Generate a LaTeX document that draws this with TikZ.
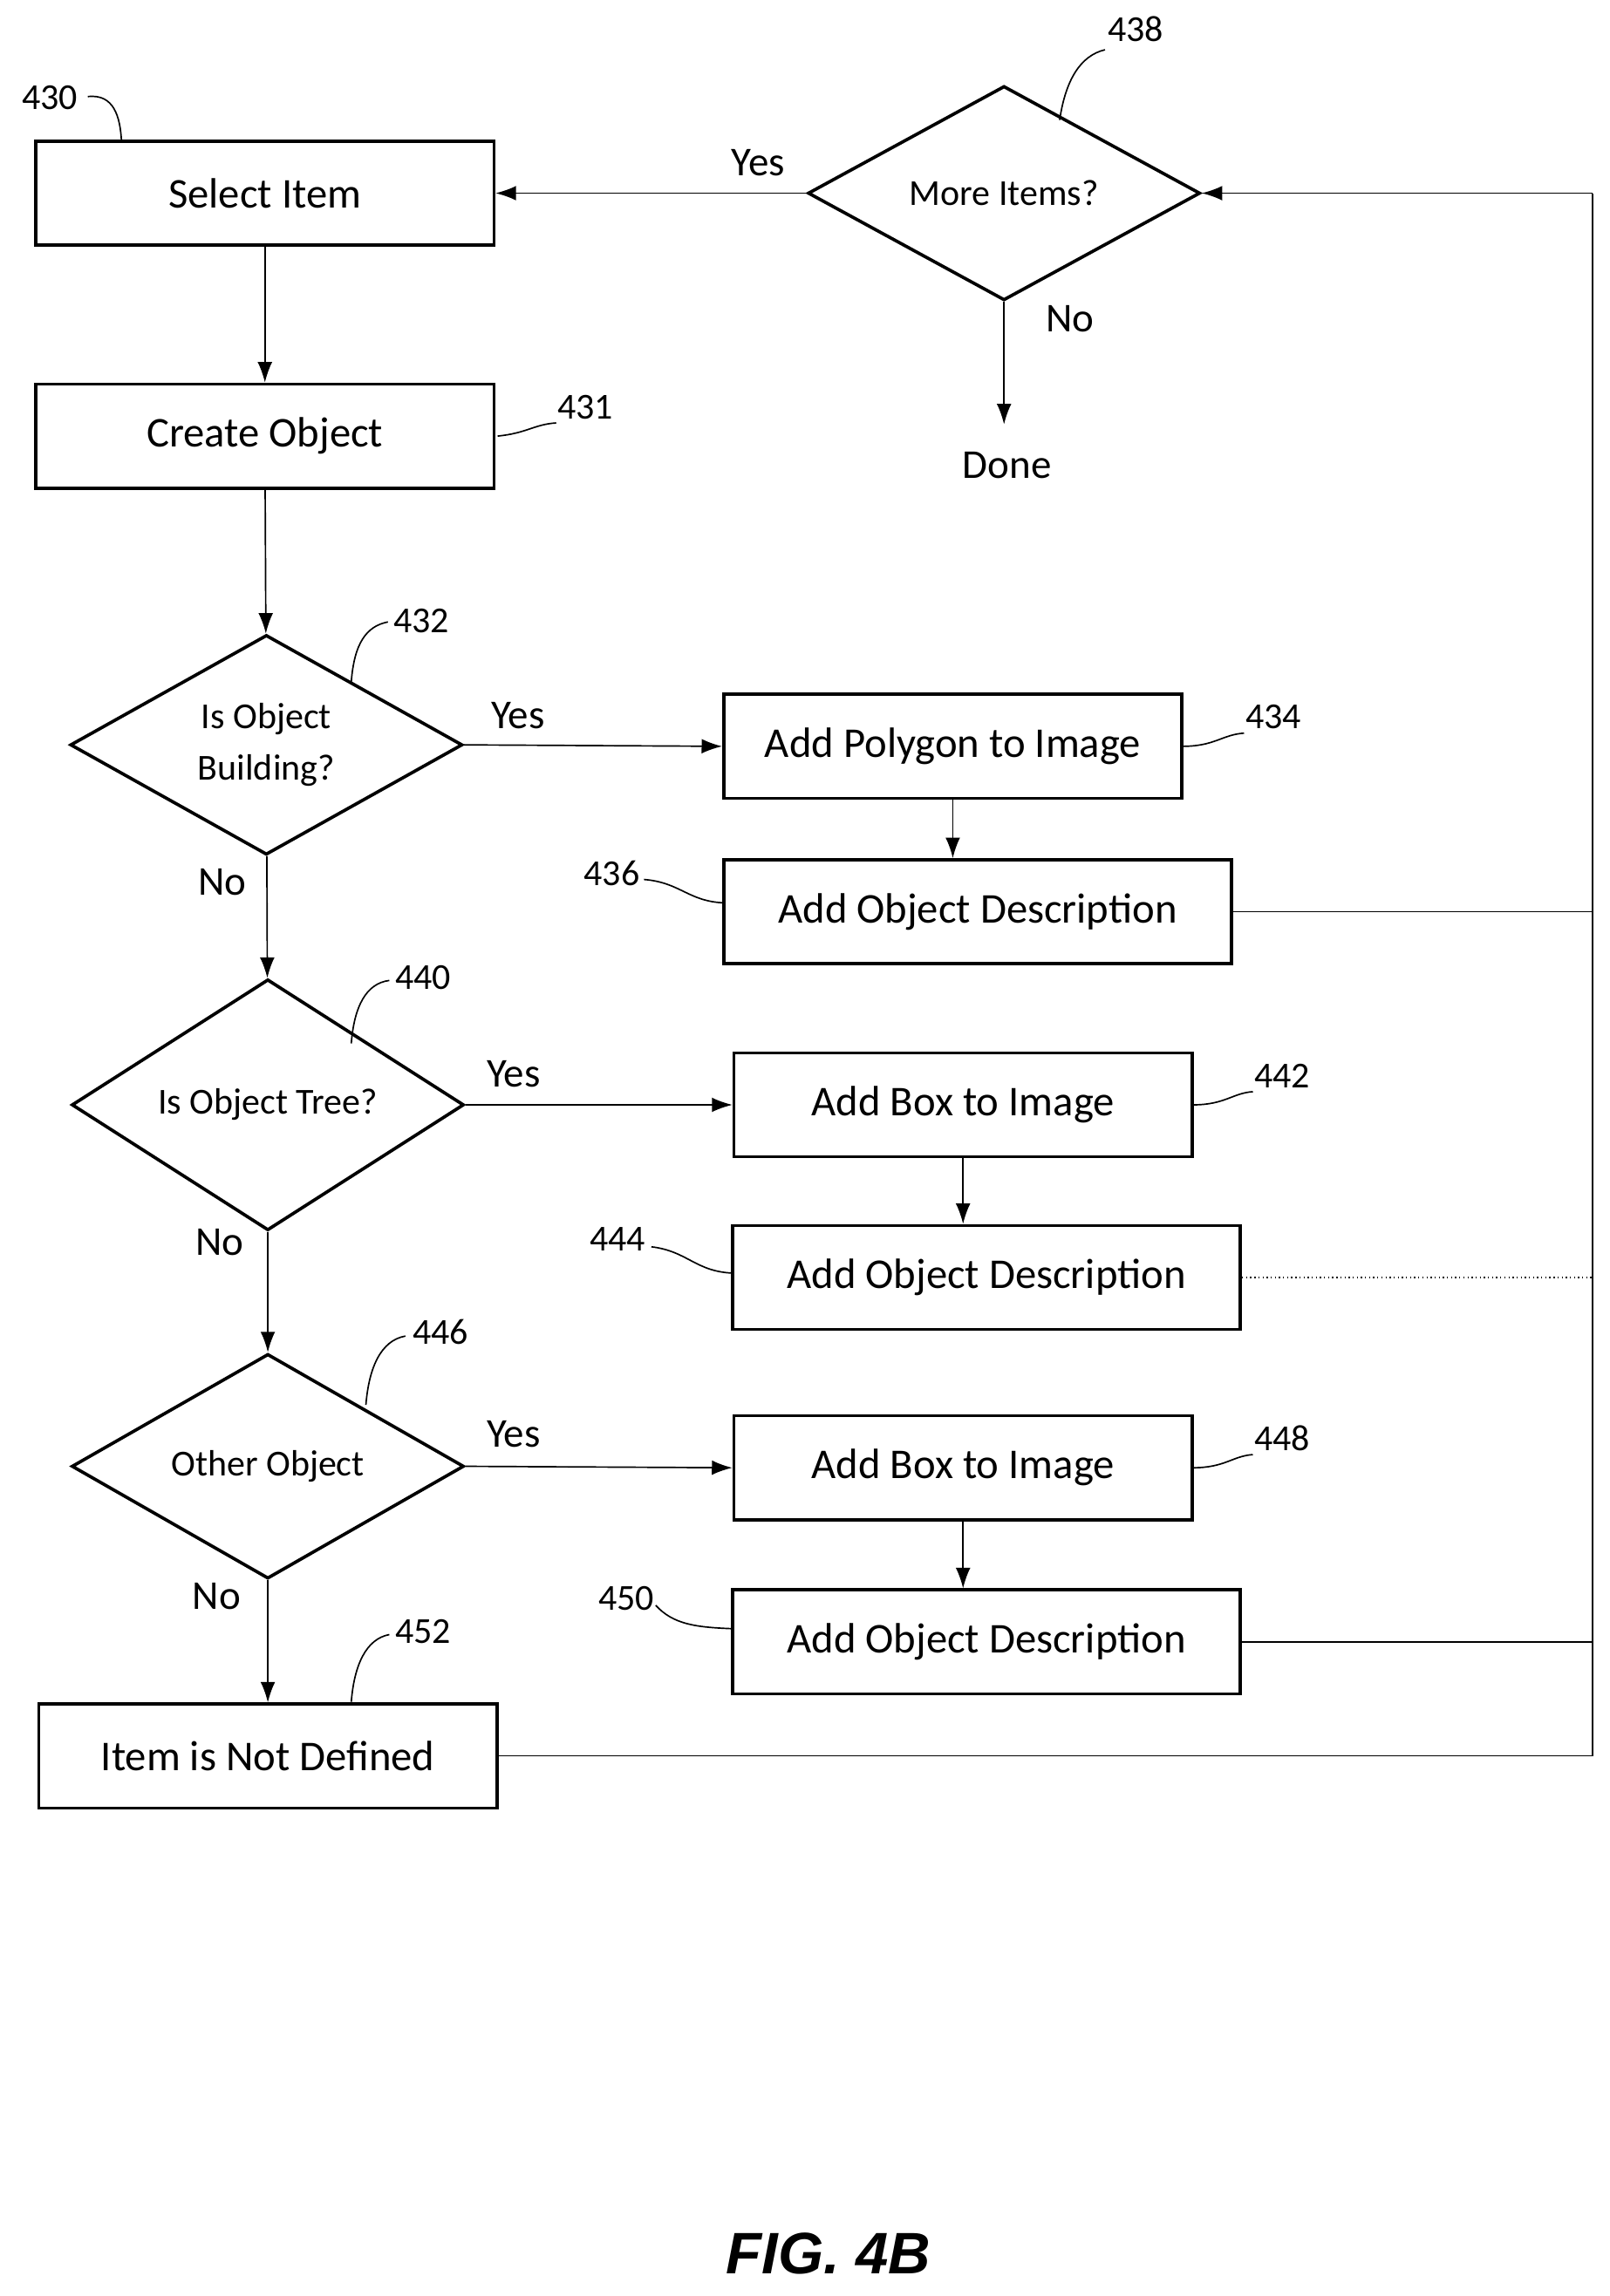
\documentclass[tikz,border=0pt]{standalone}
\usepackage{fontspec}
\setmainfont{Carlito}
\newfontfamily\figfont{Liberation Sans}
\usetikzlibrary{shapes.geometric,arrows.meta}

\tikzset{
  proc/.style={draw,line width=2.2pt,minimum width=313pt,minimum height=71pt,
    inner sep=0pt,font=\fontsize{29}{32}\selectfont},
  wide/.style={proc,minimum width=347pt},
  test/.style={draw,diamond,line width=2.2pt,minimum width=268pt,minimum height=133pt,
    inner sep=0pt,align=center,font=\fontsize{25}{35}\selectfont},
  flow/.style={line width=1pt,-{Latex[length=14pt,width=10pt]}},
  back/.style={line width=0.8pt},
  lbl/.style={font=\fontsize{28}{30}\selectfont},
  ref/.style={font=\fontsize{25}{28}\selectfont},
  lead/.style={line width=1pt}
}

\begin{document}
\begin{tikzpicture}[x=1pt,y=-1pt]
  \useasboundingbox (0,0) rectangle (1100,1569);
  % main column
  \node[proc] (sel) at (181,132) {Select Item};
  \node[proc] (obj) at (181,298) {Create Object};
  \node[test] (bld) at (182,509) {Is Object\\Building?};
  \node[test] (tree) at (183,755) {Is Object Tree?};
  \node[test] (oth) at (183,1002) {Other Object};
  \node[proc] (undef) at (183,1200) {Item is Not Defined};
  \node[test] (more) at (686,132) {More Items?};
  \node[lbl] (done) at (688,318) {Done};
  % right column
  \node[proc] (poly) at (651,510) {Add Polygon to Image};
  \node[wide] (dsc1) at (668,623) {Add Object Description};
  \node[proc] (box1) at (658,755) {Add Box to Image};
  \node[wide] (dsc2) at (674,873) {Add Object Description};
  \node[proc] (box2) at (658,1003) {Add Box to Image};
  \node[wide] (dsc3) at (674,1122) {Add Object Description};
  \coordinate (bus) at (1088,1200);
  \coordinate (top) at (1088,132);

  \draw[flow] (sel) -- (obj);
  \draw[flow] (obj) -- (bld);
  \draw[flow] (bld) -- (tree);
  \draw[flow] (tree) -- (oth);
  \draw[flow] (oth) -- (undef);
  \draw[flow] (bld.east) -- (poly.west);
  \draw[flow] (tree.east) -- (box1.west);
  \draw[flow] (oth.east) -- (box2.west);
  \draw[flow] (poly) -- (poly |- dsc1.north);
  \draw[flow] (box1) -- (box1 |- dsc2.north);
  \draw[flow] (box2) -- (box2 |- dsc3.north);
  \draw[flow] (more.west) -- (sel.east);
  \draw[flow] (more.south) -- (686,290);
  % return lines
  \draw[back] (undef.east) -- (bus) -- (top);
  \draw[flow,line width=0.8pt] (top) -- (more.east);
  \draw[back] (dsc1.east) -- (dsc1.east -| bus);
  \draw[back,dotted] (dsc2.east) -- (dsc2.east -| bus);
  \draw[back] (dsc3.east) -- (dsc3.east -| bus);

  % yes / no
  \node[lbl] at (518,111) {Yes};
  \node[lbl] at (731,218) {No};
  \node[lbl] at (354,489) {Yes};
  \node[lbl] at (152,603) {No};
  \node[lbl] at (351,734) {Yes};
  \node[lbl] at (150,849) {No};
  \node[lbl] at (351,980) {Yes};
  \node[lbl] at (148,1091) {No};

  % reference numbers
  \node[ref] (r430) at (34,67) {430};
  \draw[lead] (60,66) .. controls (78,64) and (82,80) .. (83,96);
  \node[ref] (r431) at (400,278) {431};
  \draw[lead] (340,298) .. controls (360,296) and (365,290) .. (380,289);
  \node[ref] (r432) at (288,424) {432};
  \draw[lead] (240,466) .. controls (242,440) and (250,428) .. (265,425);
  \node[ref] (r434) at (870,490) {434};
  \draw[lead] (808,510) .. controls (830,510) and (835,502) .. (850,501);
  \node[ref] (r436) at (418,597) {436};
  \draw[lead] (440,601) .. controls (465,603) and (470,616) .. (495,617);
  \node[ref] (r438) at (776,20) {438};
  \draw[lead] (724,82) .. controls (728,55) and (738,38) .. (755,34);
  \node[ref] (r440) at (289,668) {440};
  \draw[lead] (240,713) .. controls (242,688) and (250,672) .. (266,670);
  \node[ref] (r442) at (876,735) {442};
  \draw[lead] (815,755) .. controls (837,755) and (842,747) .. (856,746);
  \node[ref] (r444) at (422,847) {444};
  \draw[lead] (445,852) .. controls (470,855) and (475,869) .. (501,870);
  \node[ref] (r446) at (301,910) {446};
  \draw[lead] (250,960) .. controls (252,935) and (260,916) .. (277,913);
  \node[ref] (r448) at (876,983) {448};
  \draw[lead] (815,1003) .. controls (837,1003) and (842,995) .. (856,994);
  \node[ref] (r450) at (428,1092) {450};
  \draw[lead] (448,1097) .. controls (460,1110) and (475,1112) .. (501,1113);
  \node[ref] (r452) at (289,1115) {452};
  \draw[lead] (240,1163) .. controls (242,1138) and (250,1120) .. (266,1117);

  \node[font=\figfont\bfseries\itshape\fontsize{40}{44}\selectfont] (fig) at (566,1540) {FIG. 4B};
\end{tikzpicture}
\end{document}
